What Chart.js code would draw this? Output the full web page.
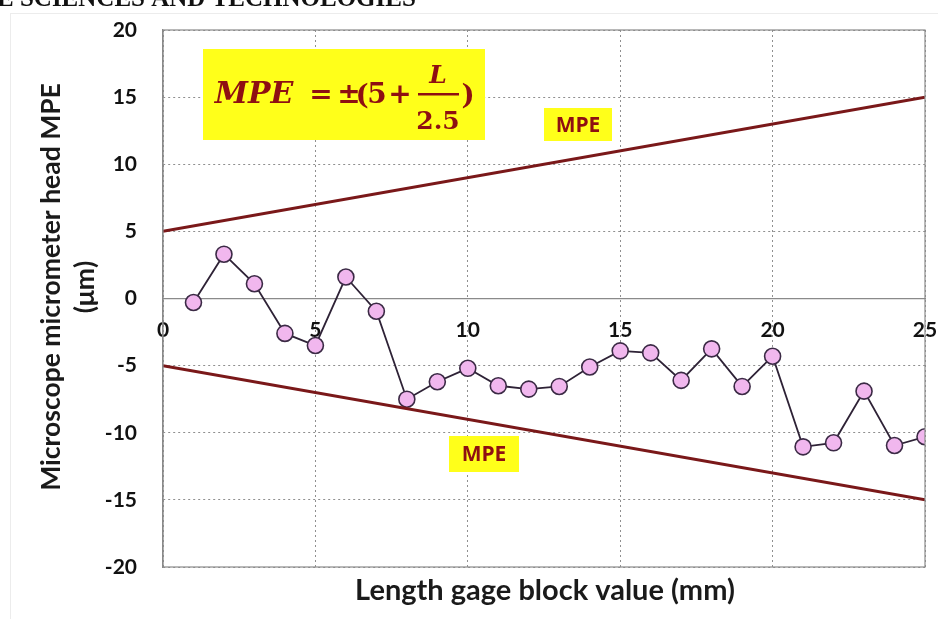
<!DOCTYPE html>
<html>
<head>
<meta charset="utf-8">
<script src="https://cdn.jsdelivr.net/npm/chart.js@4.4.1/dist/chart.umd.min.js"></script>
<style>
  body { margin: 0; background: #fff; }
  canvas { display: block; }
</style>
</head>
<body>
<canvas id="mpeChart" width="938" height="619"></canvas>
<script>
// Data
const blockLengths = [1, 2, 3, 4, 5, 6, 7, 8, 9, 10, 11, 12, 13, 14, 15, 16, 17, 18, 19, 20, 21, 22, 23, 24, 25];
const headErrors = [-0.3, 3.3, 1.1, -2.6, -3.5, 1.6, -0.95, -7.5, -6.2, -5.2, -6.5, -6.75, -6.55, -5.1, -3.9, -4.05, -6.1, -3.75, -6.55, -4.3, -11.05, -10.75, -6.9, -10.95, -10.3];
const mpeLengths = [0, 25];
const mpeUpper = [5, 15];
const mpeLower = [-5, -15];
const yTicks = [-20, -15, -10, -5, 0, 5, 10, 15, 20];
const xTicks = [0, 5, 10, 15, 20, 25];

const toPoints = (xs, ys) => xs.map((x, i) => ({ x: x, y: ys[i] }));

const lineRed = '#7a1819';
const textRed = '#8e0f12';
const gridGray = '#8f8f8f';

// extra drawing: header strip, frame, formula box, MPE labels, axis titles
const decorations = {
    id: 'decorations',
    beforeDraw(chart) {
        const ctx = chart.ctx;
        ctx.save();
        ctx.fillStyle = '#111';
        ctx.font = "bold 25px 'Liberation Serif'";
        ctx.textBaseline = 'alphabetic';
        ctx.fillText('E SCIENCES AND TECHNOLOGIES', -3, 6);
        ctx.strokeStyle = '#ececec';
        ctx.lineWidth = 1;
        ctx.strokeRect(10.5, 13.5, 940, 620);
        ctx.restore();
    },
    afterDraw(chart) {
        const ctx = chart.ctx;
        const a = chart.chartArea;
        ctx.save();

        // plot frame
        ctx.strokeStyle = '#8a8a8a';
        ctx.lineWidth = 1.2;
        ctx.strokeRect(a.left, a.top, a.right - a.left, a.bottom - a.top);

        // formula box
        ctx.fillStyle = '#ffff1a';
        ctx.fillRect(203, 49, 282, 91);
        ctx.fillStyle = textRed;
        ctx.textBaseline = 'alphabetic';
        ctx.textAlign = 'center';
        ctx.font = "bold italic 30px 'DejaVu Serif'";
        ctx.fillText('MPE', 254, 103);
        ctx.font = "bold 28px 'DejaVu Serif'";
        ctx.fillText('=', 321, 103);
        ctx.fillText('\u00b1', 349, 103);
        ctx.fillText('(', 362, 104);
        ctx.fillText('5', 377, 103);
        ctx.fillText('+', 400, 103);
        ctx.fillText(')', 468, 104);
        ctx.font = "bold italic 25px 'DejaVu Serif'";
        ctx.fillText('L', 438, 83);
        ctx.font = "bold 25px 'DejaVu Serif'";
        ctx.fillText('2.5', 438, 129);
        ctx.fillRect(418, 93, 41, 2.5);

        // MPE labels
        ctx.textBaseline = 'middle';
        ctx.font = "bold 21px 'Open Sans'";
        ctx.fillStyle = '#ffff1a';
        ctx.fillRect(544, 108, 68, 33);
        ctx.fillRect(449, 436, 70, 36);
        ctx.fillStyle = textRed;
        ctx.fillText('MPE', 578, 126);
        ctx.fillText('MPE', 484, 455);

        // axis titles
        ctx.fillStyle = '#1a1a1a';
        ctx.font = "bold 29px Lato";
        ctx.fillText('Length gage block value (mm)', 545, 591);
        ctx.font = "bold 26.5px Lato";
        ctx.translate(51, 287);
        ctx.rotate(-Math.PI / 2);
        ctx.fillText('Microscope micrometer head MPE', 0, 0);
        ctx.fillText('(\u03bcm)', 0, 34);
        ctx.restore();
    }
};

const config = {
    type: 'scatter',
    data: {
        datasets: [
            {
                label: 'MPE upper',
                data: toPoints(mpeLengths, mpeUpper),
                showLine: true,
                borderColor: lineRed,
                borderWidth: 3,
                pointRadius: 0
            },
            {
                label: 'MPE lower',
                data: toPoints(mpeLengths, mpeLower),
                showLine: true,
                borderColor: lineRed,
                borderWidth: 3,
                pointRadius: 0
            },
            {
                label: 'Head error',
                data: toPoints(blockLengths, headErrors),
                showLine: true,
                borderColor: '#2e2236',
                borderWidth: 1.8,
                pointRadius: 8,
                pointBackgroundColor: '#f1b7ee',
                pointBorderColor: '#3b2a45',
                pointBorderWidth: 1.6
            }
        ]
    },
    options: {
        responsive: false,
        animation: false,
        devicePixelRatio: 1,
        layout: { padding: { left: 0, right: 13, top: 30, bottom: 52 } },
        plugins: {
            legend: { display: false },
            tooltip: { enabled: false }
        },
        scales: {
            x: {
                type: 'linear',
                position: { y: 0 },
                min: 0,
                max: 25,
                afterBuildTicks: (scale) => { scale.ticks = xTicks.map(v => ({ value: v })); },
                afterFit: (scale) => { scale.paddingLeft = 0; scale.paddingRight = 0; },
                ticks: {
                    color: '#111',
                    padding: 19,
                    font: { family: 'Lato', weight: 'bold', size: 21 }
                },
                grid: { color: gridGray, lineWidth: 1, drawTicks: false },
                // border.dash dashes the grid lines; the axis line stays solid
                border: { display: true, color: '#8a8a8a', width: 1.3, dash: [2, 3] }
            },
            y: {
                min: -20,
                max: 20,
                afterBuildTicks: (scale) => { scale.ticks = yTicks.map(v => ({ value: v })); },
                afterFit: (scale) => {
                    scale.width = 163;
                    scale.paddingTop = 0;
                    scale.paddingBottom = 0;
                },
                ticks: {
                    color: '#111',
                    padding: 26,
                    font: { family: 'Lato', weight: 'bold', size: 21 }
                },
                grid: { color: gridGray, lineWidth: 1, drawTicks: false },
                border: { display: true, color: '#8a8a8a', width: 1.2, dash: [2, 3] }
            }
        }
    },
    plugins: [decorations]
};

const ctx = document.getElementById('mpeChart').getContext('2d');
const mpeChart = new Chart(ctx, config);
</script>
</body>
</html>
